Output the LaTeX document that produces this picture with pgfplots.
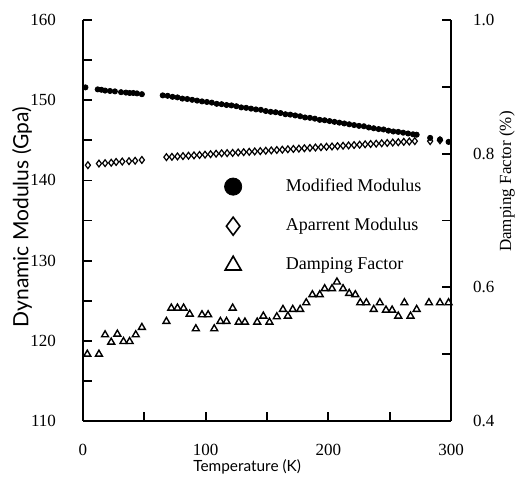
\documentclass[border=0pt]{standalone}
\usepackage{pgfplots}
\pgfplotsset{compat=1.18}
\usepackage{fontspec}
\setmainfont{Liberation Serif}
\newfontfamily\labelfont{Lato}
\pgfplotsset{/pgf/number format/assume math mode=true}
\begin{document}
\begin{tikzpicture}[font=\fontsize{8.5}{10}\selectfont]
\path[use as bounding box] (-41.5pt,-32pt) rectangle (217pt,210.5pt);
\begin{axis}[
  scale only axis, width=184pt, height=200.5pt,
  xmin=0, xmax=300, ymin=110, ymax=160,
  clip=false,
  axis x line*=bottom, axis y line*=left,
  axis line style={line width=1.2pt,-},
  tick style={line width=0.9pt, black},
  major tick length=4.5pt, minor tick length=4.5pt,
  tick align=inside,
  xtick={0,100,200,300}, minor xtick={50,150,250},
  ytick={110,120,...,160}, minor ytick={115,125,...,155},
  xticklabel style={yshift=-8pt},
  yticklabel style={xshift=-10pt},
]
\node[rotate=90, anchor=center, font=\labelfont\fontsize{10.5}{12}\selectfont] at (axis description cs:-0.166,0.508) {Dynamic Modulus (Gpa)};
\node[anchor=center, font=\labelfont\fontsize{7.7}{9}\selectfont] at (axis description cs:0.446,-0.115) {Temperature (K)};
% Modified modulus (filled circles)
\addplot[only marks, mark=*, mark size=1.3pt, black] coordinates {
(2,151.6) (12,151.35) (15,151.3) (18,151.2) (22,151.15) (26,151.1) (31,151.0)
(35,150.95) (38,150.9) (41,150.9) (44,150.85) (48,150.75)
(65,150.60) (69,150.55) (73,150.42) (77,150.35) (81,150.20) (85,150.15)
(89,150.05) (93,149.95) (97,149.85) (101,149.78) (105,149.70) (109,149.55)
(113,149.50) (117,149.40) (121,149.35) (125,149.25) (129,149.10) (133,149.05)
(137,148.95) (141,148.85) (145,148.80) (149,148.65) (153,148.55) (157,148.50)
(161,148.40) (165,148.25) (169,148.20) (173,148.10) (177,148.00) (181,147.85)
(185,147.80) (189,147.70) (193,147.55) (197,147.50) (201,147.40) (205,147.30)
(209,147.20) (213,147.10) (217,147.00) (221,146.90) (225,146.80) (229,146.75)
(233,146.60) (237,146.50) (241,146.40) (245,146.35) (249,146.20) (253,146.10)
(257,146.05) (261,145.95) (265,145.85) (269,145.75) (272,145.70)
(283,145.3) (291,145.1) (298,144.8)
};
% Apparent modulus (open diamonds)
\addplot[only marks, mark=diamond, mark size=1.7pt, black, line width=0.6pt] coordinates {
(4,141.9) (13,142.1) (18,142.15) (23,142.2) (27,142.3) (32,142.35) (37.5,142.4)
(42.5,142.45) (48,142.55)
(68,142.90) (72.5,142.94) (77,142.99) (81.5,143.03) (86,143.08) (90.5,143.12)
(95,143.17) (99.5,143.21) (104,143.27) (108.5,143.33) (113,143.38) (117.5,143.40)
(122,143.43) (126.5,143.48) (131,143.52) (135.5,143.56) (140,143.61) (144.5,143.65)
(149,143.70) (153.5,143.74) (158,143.79) (162.5,143.83) (167,143.88) (171.5,143.92)
(176,143.96) (180.5,144.01) (185,144.05) (189.5,144.10) (194,144.14) (198.5,144.19)
(203,144.23) (207.5,144.27) (212,144.32) (216.5,144.36) (221,144.41) (225.5,144.45)
(230,144.50) (234.5,144.54) (239,144.58) (243.5,144.63) (248,144.67) (252.5,144.72)
(257,144.76) (261.5,144.81) (266,144.85) (270.5,144.90) (283,144.9) (291,145.0)
};
\end{axis}
\begin{axis}[
  scale only axis, width=184pt, height=200.5pt,
  xmin=0, xmax=300, ymin=0.4, ymax=1.0,
  clip=false,
  axis x line=none, axis y line*=right,
  axis line style={line width=1.2pt,-},
  tick style={line width=0.9pt, black},
  major tick length=4.5pt, minor tick length=4.5pt,
  tick align=inside,
  ytick={0.4,0.6,0.8,1.0}, minor ytick={0.5,0.7,0.9},
  yticklabel style={xshift=7.5pt, /pgf/number format/fixed, /pgf/number format/fixed zerofill, /pgf/number format/precision=1},
  legend image code/.code={\path (0pt,0pt) (32pt,0pt); \draw[#1] plot coordinates {(8pt,0pt)};},
  legend style={draw=none, fill=none, at={(axis description cs:0.345,0.625)}, anchor=north west,
    row sep=8pt, cells={anchor=west}, font=\fontsize{9}{10}\selectfont},
]
\node[rotate=90, anchor=center, font=\fontsize{8.5}{10}\selectfont] at (axis description cs:1.152,0.597) {Damping Factor (\%)};
\addplot[only marks, mark=triangle, mark size=2pt, black, line width=0.7pt, forget plot] coordinates {
(3.5,0.500) (13,0.500) (18,0.529) (23,0.518) (28,0.530) (33,0.519) (38,0.519)
(43,0.529) (48,0.540) (68,0.549) (72,0.569) (77,0.569) (82,0.569) (87,0.560)
(92,0.538) (97,0.559) (102,0.559) (107,0.538) (112,0.549) (117,0.549) (122,0.569)
(127,0.548) (132,0.548) (142,0.548) (147,0.557) (152,0.548) (158,0.556) (163,0.567)
(167,0.557) (171,0.567) (177,0.567) (182,0.577) (187,0.589) (193,0.589) (197,0.598)
(203,0.598) (207,0.608) (212,0.598) (217,0.591) (222,0.589) (226,0.577) (231,0.577)
(237,0.567) (242,0.577) (247,0.566) (252,0.566) (257,0.557) (262,0.577) (267,0.557)
(272,0.567) (282,0.577) (291,0.577) (298,0.577)
};
\addlegendimage{mark=*, mark size=4.3pt, black}
\addlegendentry{Modified Modulus}
\addlegendimage{mark=diamond, mark size=4.5pt, black, line width=0.8pt}
\addlegendentry{Aparrent Modulus}
\addlegendimage{mark=triangle, mark size=4.6pt, black, line width=0.8pt}
\addlegendentry{Damping Factor}
\end{axis}
\end{tikzpicture}
\end{document}
